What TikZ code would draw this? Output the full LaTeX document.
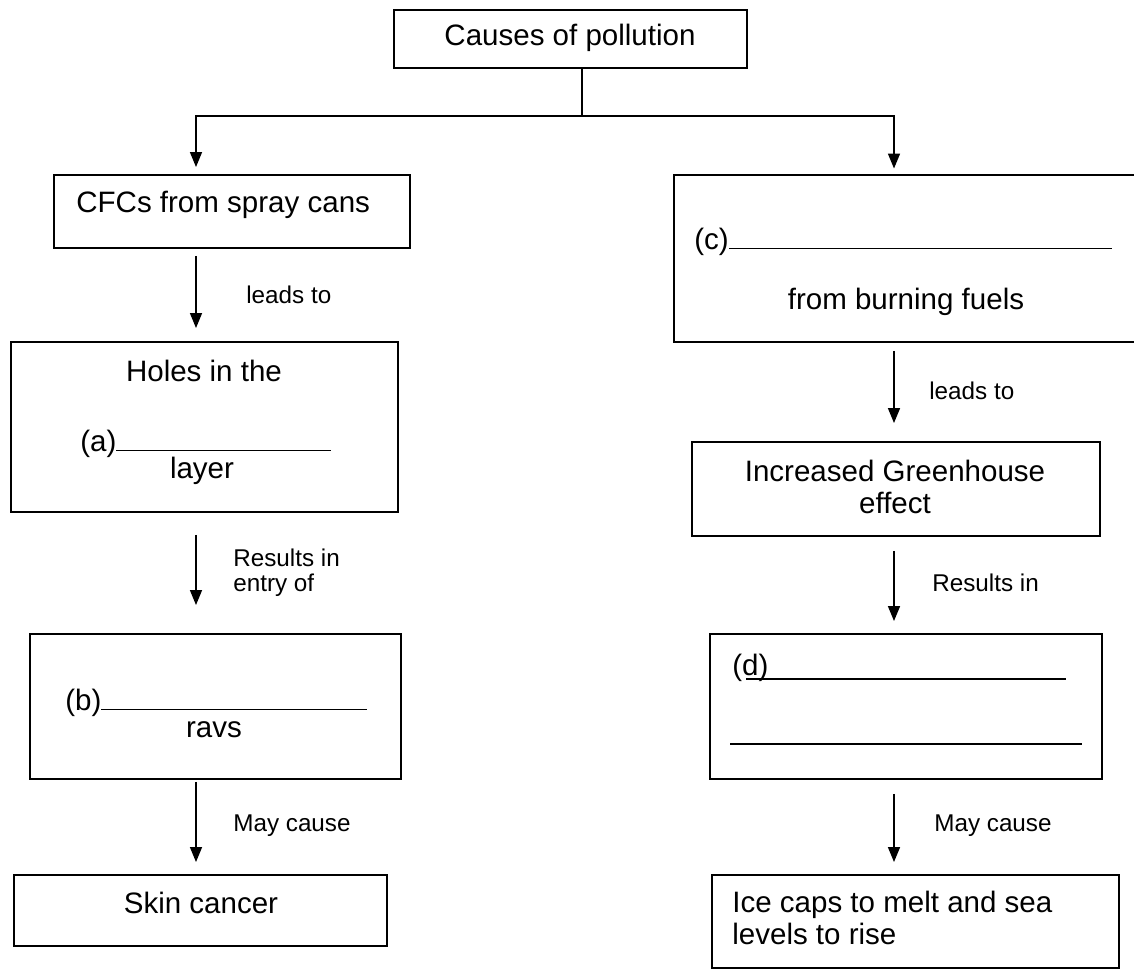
\documentclass[tikz,border=0pt]{standalone}
\usepackage{fontspec}
\setmainfont{Liberation Sans}
\usetikzlibrary{arrows.meta, positioning, fit}

\begin{document}
\begin{tikzpicture}[
    x=0.2mm, y=-0.2mm,
    box/.style={draw, line width=1.1pt, inner sep=0pt},
    txt/.style={inner sep=0pt, align=center, font=\fontsize{16.8}{17.8}\selectfont},
    lbl/.style={inner sep=0pt, anchor=west, align=left, font=\fontsize{13.8}{14.4}\selectfont},
    arr/.style={-{Triangle[length=3mm, width=2.4mm]}, line width=0.85pt, shorten <=1.4mm, shorten >=2.6mm},
    blank/.style={line width=0.8pt}
]
\useasboundingbox (0,0) rectangle (1134,971);

\node[box, fit={(394,10) (747,68)}] (top) {};
\node[txt] (toptext) at (570,38) {Causes of pollution};

\node[box, fit={(54,175) (410,248)}] (cfc) {};
\node[txt, anchor=west] (cfctext) at (76,205) {CFCs from spray cans};
\node[box, fit={(11,342) (398,512)}] (holes) {};
\node[txt] (holestext) at (204,371) {Holes in the};
\node[txt, anchor=base west] (ablank) at (80,451) {(a)\rule{43mm}{0.8pt}};
\node[txt] (layer) at (202,471) {layer};
\node[box, fit={(30,634) (401,779)}] (bgap) {};
\node[txt, anchor=base west] (bblank) at (65,710) {(b)\rule{53.2mm}{0.8pt}};
\node[txt] (ravs) at (214,730) {ravs};
\node[box, fit={(14,875) (387,946)}] (skin) {};
\node[txt] (skintext) at (201,903) {Skin cancer};

\node[box, fit={(674,175) (1150,342)}] (cgap) {};
\node[txt, anchor=base west] (cblank) at (694,249) {(c)\rule{76.6mm}{0.8pt}};
\node[txt] (fuels) at (906,302) {from burning fuels};
\node[box, fit={(692,442) (1100,536)}] (green) {};
\node[txt] (greentext) at (895,487) {Increased Greenhouse\\effect};
\node[box, fit={(710,634) (1102,779)}] (dgap) {};
\node[txt, anchor=base west] (dlabel) at (732,675) {(d)};
\draw[blank] (746,679) -- (1066,679);
\draw[blank] (730,744) -- (1082,744);
\node[box, fit={(712,875) (1119,968)}] (ice) {};
\node[txt, anchor=north west, align=left] (icetext) at (732,891) {Ice caps to melt and sea\\levels to rise};

\coordinate (xl) at (196,0);
\coordinate (xr) at (894,0);
\coordinate (fork) at (582,116);

\draw[arr, shorten <=0pt, shorten >=1.4mm] (top.south -| fork) -- (fork) -| (cfc.north -| xl);
\draw[arr, shorten <=0pt, shorten >=1.1mm] (fork) -| (cgap.north -| xr);

\draw[arr] (cfc.south -| xl) -- (holes.north -| xl);
\draw[arr, shorten <=4.4mm, shorten >=5.6mm] (holes.south -| xl) -- (bgap.north -| xl);
\draw[arr, shorten <=0.4mm, shorten >=2.4mm] (bgap.south -| xl) -- (skin.north -| xl);
\draw[arr, shorten <=1.6mm, shorten >=3.6mm] (cgap.south -| xr) -- (green.north -| xr);
\draw[arr, shorten <=2.8mm, shorten >=2.4mm] (green.south -| xr) -- (dgap.north -| xr);
\draw[arr, shorten <=2.8mm, shorten >=2.4mm] (dgap.south -| xr) -- (ice.north -| xr);

\node[lbl] (leads1) at (246,295) {leads to};
\node[lbl] (results1) at (233,573) {Results in\\entry of};
\node[lbl] (may1) at (233,826) {May cause};
\node[lbl] (leads2) at (929,391) {leads to};
\node[lbl] (results2) at (932,583) {Results in};
\node[lbl] (may2) at (934,826) {May cause};
\end{tikzpicture}
\end{document}
